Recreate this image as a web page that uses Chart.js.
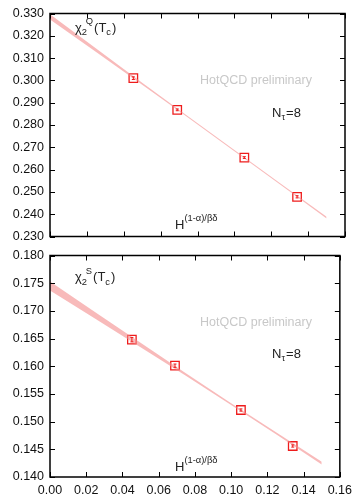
<!DOCTYPE html>
<html>
<head>
<meta charset="utf-8">
<script src="https://cdn.jsdelivr.net/npm/chart.js@4.4.1/dist/chart.umd.min.js"></script>
<style>
  html, body { margin: 0; padding: 0; background: #fff; }
  #wrap { position: relative; width: 358px; height: 496px; }
  #wrap canvas { position: absolute; left: 0; }
  #top-chart { top: 0; }
  #bottom-chart { top: 242px; }
</style>
</head>
<body>
<div id="wrap">
  <canvas id="top-chart" width="358" height="250"></canvas>
  <canvas id="bottom-chart" width="358" height="254"></canvas>
</div>
<script>
// lattice points, x = H^((1-a)/bd)
const hValues = [0.0452, 0.069, 0.1054, 0.134];

// chi_2^Q(Tc)
const chiQ = [0.3010, 0.2868, 0.2654, 0.2478];
const chiQErr = [0.0006, 0.0004, 0.0004, 0.0005];

// chi_2^S(Tc)
const chiS = [0.1648, 0.1601, 0.1521, 0.1456];
const chiSErr = [0.0004, 0.0003, 0.0002, 0.0002];

// fit bands (upper / lower edge)
const bandX = [0, 0.025, 0.05, 0.075, 0.10, 0.125, 0.15];
const chiQBandHi = [0.3297, 0.3143, 0.2990, 0.2838, 0.26875, 0.2538, 0.2389];
const chiQBandLo = [0.3273, 0.3127, 0.2980, 0.2832, 0.26825, 0.2532, 0.2381];
const chiSBandHi = [0.1753, 0.16977, 0.16423, 0.15872, 0.15332, 0.14802, 0.14275];
const chiSBandLo = [0.1737, 0.16857, 0.16343, 0.15828, 0.15302, 0.14766, 0.14225];

const xMin = 0, xMax = 0.16, xStep = 0.02;

const FONT = '"Liberation Sans", Arial, sans-serif';
const RED = '#ee1c1c';
const BAND = 'rgba(244, 140, 140, 0.6)';

function pts(xs, ys) {
    return xs.map((x, i) => ({ x, y: ys[i] }));
}

// draw text with sub/superscripts
function rich(ctx, x, y, parts, size) {
    const small = size * 0.72;
    parts.forEach(p => {
        if (p.t) {
            ctx.font = `${size}px ${FONT}`;
            ctx.fillText(p.t, x, y);
            x += ctx.measureText(p.t).width;
        } else {
            ctx.font = `${small}px ${FONT}`;
            let w = 0;
            if (p.sub) {
                ctx.fillText(p.sub, x, y + size * 0.3);
                w = ctx.measureText(p.sub).width;
            }
            if (p.sup) {
                const dx = p.supDx || 0;
                ctx.fillText(p.sup, x + dx, y - size * 0.55);
                w = Math.max(w, dx + ctx.measureText(p.sup).width);
            }
            x += w + 1;
        }
    });
}

function framePlugin(notes, values, errs) {
    return {
        id: 'frame',
        afterDatasetsDraw(chart) {
            const { ctx, chartArea: a, scales } = chart;
            const xs = scales.x, ys = scales.y;

            // error bars
            ctx.save();
            ctx.strokeStyle = RED;
            ctx.lineWidth = 1;
            hValues.forEach((h, i) => {
                const px = xs.getPixelForValue(h);
                const y1 = ys.getPixelForValue(values[i] + errs[i]);
                const y2 = ys.getPixelForValue(values[i] - errs[i]);
                ctx.beginPath();
                ctx.moveTo(px, y1); ctx.lineTo(px, y2);
                ctx.moveTo(px - 1.5, y1); ctx.lineTo(px + 1.5, y1);
                ctx.moveTo(px - 1.5, y2); ctx.lineTo(px + 1.5, y2);
                ctx.stroke();
            });
            ctx.restore();

            // border and inward ticks
            ctx.save();
            ctx.strokeStyle = '#000';
            ctx.lineWidth = 1.5;
            ctx.strokeRect(a.left, a.top, a.right - a.left, a.bottom - a.top);
            ctx.lineWidth = 1;
            ctx.beginPath();
            xs.ticks.forEach(t => {
                const px = Math.round(xs.getPixelForValue(t.value)) + 0.5;
                ctx.moveTo(px, a.top); ctx.lineTo(px, a.top + 5);
                ctx.moveTo(px, a.bottom); ctx.lineTo(px, a.bottom - 5);
            });
            ys.ticks.forEach(t => {
                const py = Math.round(ys.getPixelForValue(t.value)) + 0.5;
                ctx.moveTo(a.left, py); ctx.lineTo(a.left + 5, py);
                ctx.moveTo(a.right, py); ctx.lineTo(a.right - 5, py);
            });
            ctx.stroke();
            ctx.restore();

            // labels
            ctx.save();
            ctx.textBaseline = 'alphabetic';
            ctx.fillStyle = '#222';
            rich(ctx, a.left + 25, a.top + notes.chiDy,
                [{ t: 'χ' }, { sub: '2', sup: notes.flavour, supDx: 4 }, { t: '(T' }, { sub: 'c' }, { t: ')' }], 13);

            ctx.fillStyle = '#c8c8c8';
            ctx.font = `12.5px ${FONT}`;
            ctx.textAlign = 'center';
            ctx.textBaseline = 'middle';
            ctx.fillText('HotQCD preliminary', 256, a.top + 67);

            ctx.fillStyle = '#222';
            ctx.textAlign = 'left';
            ctx.textBaseline = 'alphabetic';
            rich(ctx, 272, a.top + notes.nDy, [{ t: 'N' }, { sub: 'τ' }, { t: '=8' }], 13);
            rich(ctx, 175, a.top + 215, [{ t: 'H' }, { sup: '(1-α)/βδ' }], 13);
            ctx.restore();
        }
    };
}

function makeChart(id, cfg) {
    const tickFont = { family: FONT, size: 12.5 };
    return new Chart(document.getElementById(id), {
        type: 'line',
        data: {
            datasets: [
                {
                    data: pts(bandX, cfg.bandHi),
                    borderWidth: 0,
                    borderColor: 'rgba(0,0,0,0)',
                    pointRadius: 0,
                    fill: false
                },
                {
                    data: pts(bandX, cfg.bandLo),
                    borderWidth: 0,
                    borderColor: 'rgba(0,0,0,0)',
                    pointRadius: 0,
                    backgroundColor: BAND,
                    fill: '-1'
                },
                {
                    data: pts(hValues, cfg.values),
                    showLine: false,
                    pointStyle: 'rect',
                    pointRadius: 6,
                    pointBorderWidth: 1.3,
                    pointBorderColor: RED,
                    pointBackgroundColor: 'rgba(255,255,255,0)'
                }
            ]
        },
        options: {
            responsive: false,
            animation: false,
            events: [],
            layout: { padding: cfg.padding },
            plugins: { legend: { display: false }, tooltip: { enabled: false } },
            scales: {
                x: {
                    type: 'linear',
                    min: xMin,
                    max: xMax,
                    display: cfg.showX,
                    grid: { display: false, drawTicks: false },
                    border: { display: false },
                    ticks: {
                        stepSize: xStep,
                        padding: 6,
                        color: '#111',
                        font: tickFont,
                        maxRotation: 0,
                        autoSkip: false,
                        callback: v => v.toFixed(2)
                    },
                    afterFit: s => { s.height = cfg.showX ? 19 : 0; }
                },
                y: {
                    min: cfg.yMin,
                    max: cfg.yMax,
                    grid: { display: false, drawTicks: false },
                    border: { display: false },
                    ticks: {
                        stepSize: cfg.yStep,
                        padding: 6,
                        color: '#111',
                        font: tickFont,
                        autoSkip: false,
                        callback: v => v.toFixed(3)
                    },
                    afterFit: s => { s.width = 50; }
                }
            }
        },
        plugins: [framePlugin(cfg.notes, cfg.values, cfg.errs)]
    });
}

makeChart('top-chart', {
    values: chiQ, errs: chiQErr,
    bandHi: chiQBandHi, bandLo: chiQBandLo,
    yMin: 0.23, yMax: 0.33, yStep: 0.01,
    showX: false,
    padding: { left: 0, right: 13, top: 13, bottom: 10 },
    notes: { flavour: 'Q', chiDy: 18, nDy: 103 }
});

makeChart('bottom-chart', {
    values: chiS, errs: chiSErr,
    bandHi: chiSBandHi, bandLo: chiSBandLo,
    yMin: 0.14, yMax: 0.18, yStep: 0.005,
    showX: true,
    padding: { left: 0, right: 13, top: 7, bottom: 0 },
    notes: { flavour: 'S', chiDy: 25.5, nDy: 102 }
});
</script>
</body>
</html>
